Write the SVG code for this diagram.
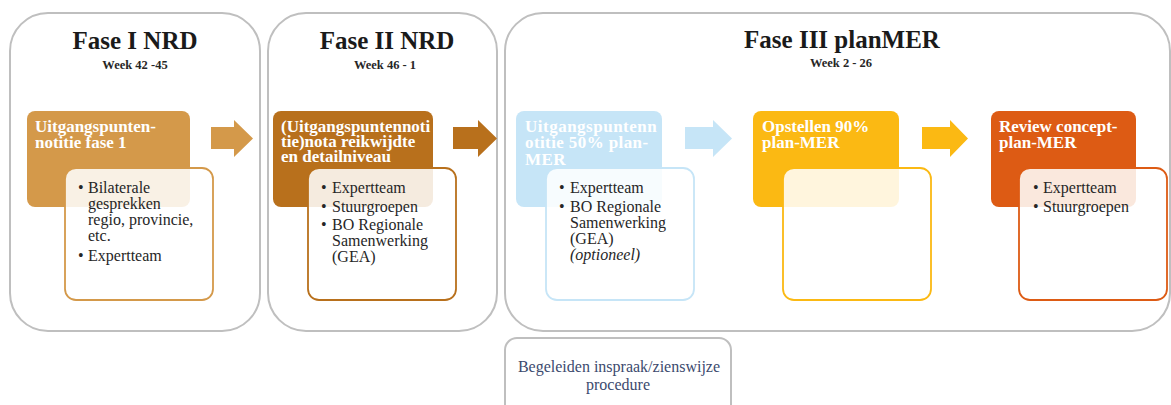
<svg xmlns="http://www.w3.org/2000/svg" width="1171" height="405" viewBox="0 0 1171 405">
<style>
.phase{fill:#fff;stroke:#BFBFBF;stroke-width:2}
.title{font-family:"Liberation Serif",serif;font-weight:bold;font-size:25px;fill:#1a1a1a;text-anchor:middle}
.week{font-family:"Liberation Serif",serif;font-weight:bold;font-size:12.5px;fill:#262626;text-anchor:middle}
.head{font-family:"Liberation Serif",serif;font-weight:bold;font-size:17px;fill:#fff}
.inner{fill:#fff;fill-opacity:0.86;stroke-width:1.8}
.bul{font-family:"Liberation Serif",serif;font-size:16px;fill:#262626}
.note{font-family:"Liberation Serif",serif;font-size:16px;fill:#3C4A6E;text-anchor:middle}
</style>
<g id="fase1">
<rect class="phase" x="10" y="13" width="250" height="318" rx="38"/>
<text class="title" x="135" y="49">Fase I NRD</text>
<text class="week" x="135" y="69">Week 42 -45</text>
</g>
<g id="fase2">
<rect class="phase" x="268" y="13" width="229" height="318" rx="38"/>
<text class="title" x="387" y="49">Fase II NRD</text>
<text class="week" x="385" y="69">Week 46 - 1</text>
</g>
<g id="fase3">
<rect class="phase" x="505" y="13" width="665" height="318" rx="38"/>
<text class="title" x="842" y="48">Fase III planMER</text>
<text class="week" x="841" y="67">Week 2 - 26</text>
</g>
<g id="connectors">
<polygon fill="#D4994A" points="211,127 234,127 234,120 253,138.5 234,157 234,149 211,149"/>
<polygon fill="#B8701C" points="453,127 478,127 478,120 497,138.5 478,157 478,149 453,149"/>
<polygon fill="#C6E5F7" points="685,127 713,127 713,120 732,138.5 713,157 713,149 685,149"/>
<polygon fill="#FBB913" points="922,127 950,127 950,120 968,138.5 950,157 950,149 922,149"/>
</g>
<g id="uitgangspunten-fase1">
<rect x="27" y="111" width="163" height="96" rx="8" fill="#D4994A"/>
<text class="head" x="35" y="132">Uitgangspunten-</text>
<text class="head" x="35" y="148">notitie fase 1</text>
<rect class="inner" x="65" y="168" width="148" height="132" rx="11" stroke="#D4994A"/>
<text class="bul" x="78" y="193">•</text><text class="bul" x="88" y="193">Bilaterale</text>
<text class="bul" x="88" y="209">gesprekken</text>
<text class="bul" x="88" y="225">regio, provincie,</text>
<text class="bul" x="88" y="241">etc.</text>
<text class="bul" x="78" y="261">•</text><text class="bul" x="88" y="261">Expertteam</text>
</g>
<g id="nota-reikwijdte">
<rect x="273" y="111" width="160" height="96" rx="8" fill="#B8701C"/>
<text class="head" x="281" y="132">(Uitgangspuntennoti</text>
<text class="head" x="281" y="147">tie)nota reikwijdte</text>
<text class="head" x="281" y="162">en detailniveau</text>
<rect class="inner" x="308" y="168" width="148" height="132" rx="11" stroke="#B8701C"/>
<text class="bul" x="321" y="193">•</text><text class="bul" x="332" y="193">Expertteam</text>
<text class="bul" x="321" y="212">•</text><text class="bul" x="332" y="212">Stuurgroepen</text>
<text class="bul" x="321" y="230">•</text><text class="bul" x="332" y="230">BO Regionale</text>
<text class="bul" x="332" y="246">Samenwerking</text>
<text class="bul" x="332" y="262">(GEA)</text>
</g>
<g id="uitgangspunten-50">
<rect x="516" y="111" width="146" height="96" rx="8" fill="#C6E5F7"/>
<text class="head" x="525" y="132" letter-spacing="0.5">Uitgangspuntenn</text>
<text class="head" x="525" y="148" letter-spacing="0.4">otitie 50% plan-</text>
<text class="head" x="525" y="165" letter-spacing="0.4">MER</text>
<rect class="inner" x="546" y="168" width="148" height="132" rx="11" stroke="#C6E5F7"/>
<text class="bul" x="559" y="193">•</text><text class="bul" x="570" y="193">Expertteam</text>
<text class="bul" x="559" y="212">•</text><text class="bul" x="570" y="212">BO Regionale</text>
<text class="bul" x="570" y="228">Samenwerking</text>
<text class="bul" x="570" y="244">(GEA)</text>
<text class="bul" x="570" y="260" font-style="italic">(optioneel)</text>
</g>
<g id="opstellen-90">
<rect x="753" y="111" width="146" height="96" rx="8" fill="#FBB913"/>
<text class="head" x="762" y="132">Opstellen 90%</text>
<text class="head" x="762" y="148">plan-MER</text>
<rect class="inner" x="783" y="168" width="148" height="132" rx="11" stroke="#FBB913"/>
</g>
<g id="review-concept">
<rect x="991" y="111" width="145" height="96" rx="8" fill="#DD5B14"/>
<text class="head" x="999" y="132">Review concept-</text>
<text class="head" x="999" y="148">plan-MER</text>
<rect class="inner" x="1019" y="168" width="148" height="132" rx="11" stroke="#DD5B14"/>
<text class="bul" x="1033" y="193">•</text><text class="bul" x="1043" y="193">Expertteam</text>
<text class="bul" x="1033" y="212">•</text><text class="bul" x="1043" y="212">Stuurgroepen</text>
</g>
<g id="begeleiden-inspraak">
<rect x="505" y="338" width="226" height="90" rx="12" fill="#fff" stroke="#BFBFBF" stroke-width="2"/>
<text class="note" x="619" y="372">Begeleiden inspraak/zienswijze</text>
<text class="note" x="618" y="390">procedure</text>
</g>
</svg>
